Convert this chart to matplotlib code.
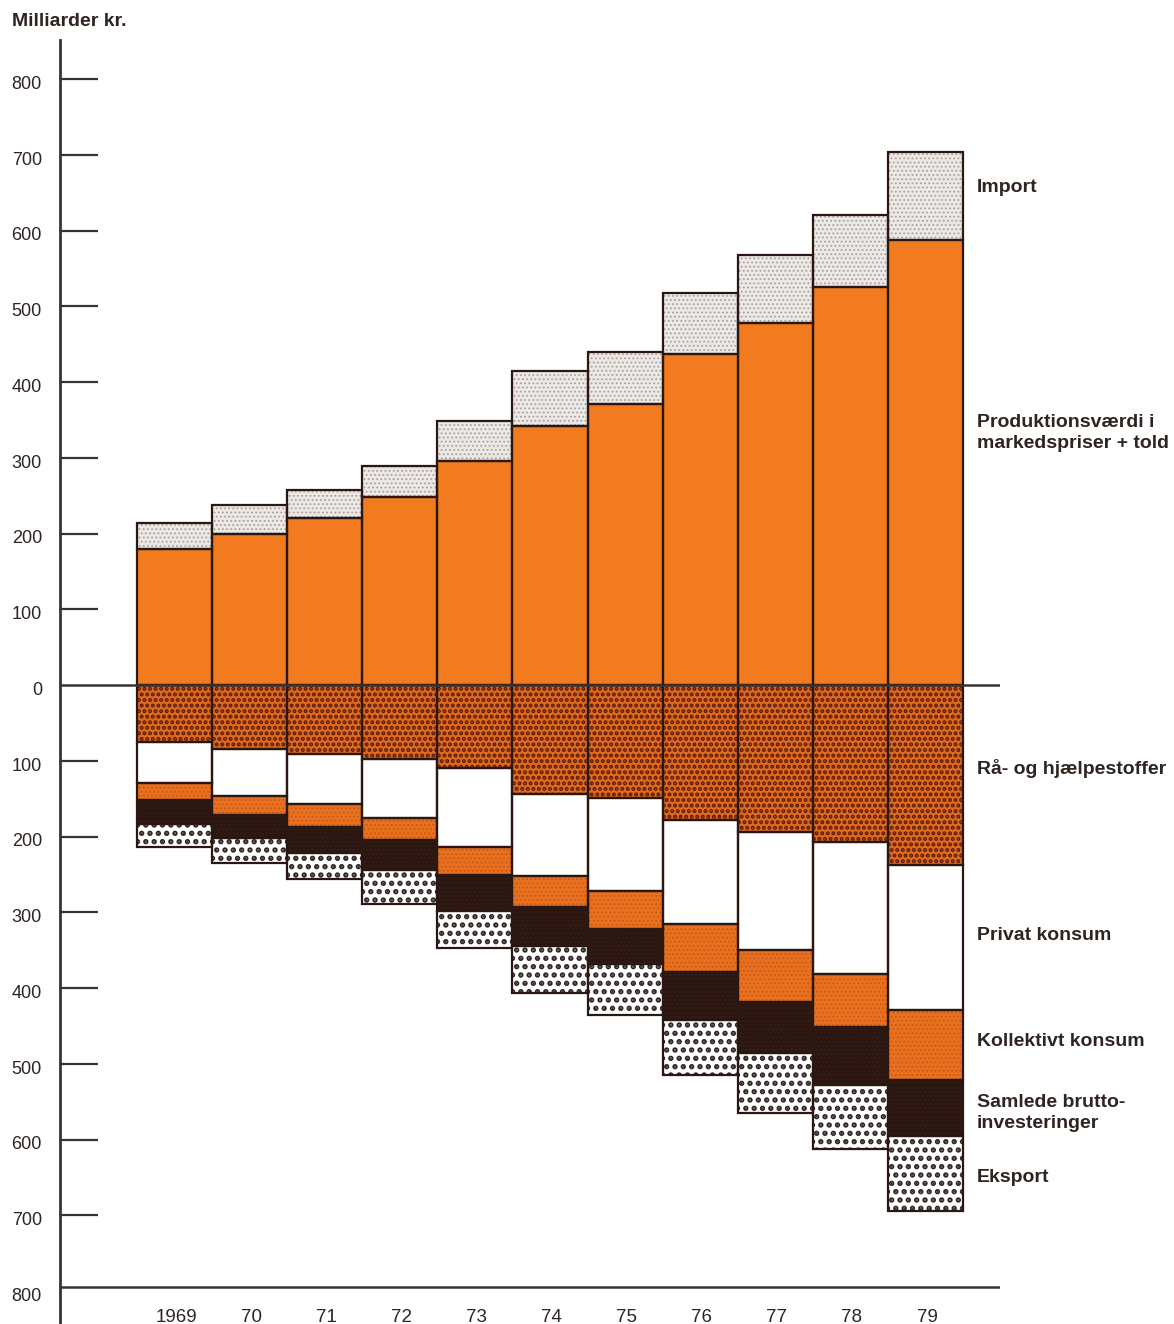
import matplotlib
matplotlib.use("Agg")
import matplotlib.pyplot as plt
import matplotlib.transforms as mtransforms
import numpy as np

plt.rcParams["font.family"] = ["Liberation Sans", "DejaVu Sans"]

# ---------------------------------------------------------------------------
# Data (milliarder kr.)
# ---------------------------------------------------------------------------
years = ["1969", "70", "71", "72", "73", "74", "75", "76", "77", "78", "79"]

# supply side (above zero)
produktion = [179, 199, 220, 248, 296, 342, 371, 437, 478, 525, 588]
import_ = [35, 38, 37, 41, 52, 72, 68, 80, 89, 95, 115]

# use side (below zero), stacked downwards in this order
raa_hjaelp = [75, 84, 91, 98, 110, 144, 149, 178, 194, 207, 237]
privat = [54, 62, 66, 77, 104, 108, 123, 137, 156, 174, 192]
kollektiv = [23, 25, 30, 29, 37, 41, 50, 64, 68, 71, 92]
investering = [31, 31, 35, 40, 47, 51, 46, 63, 68, 76, 75]
eksport = [31, 33, 34, 45, 49, 62, 67, 73, 79, 85, 98]

ytick_vals = [800, 700, 600, 500, 400, 300, 200, 100, 0,
              -100, -200, -300, -400, -500, -600, -700, -800]

# ---------------------------------------------------------------------------
# Styling
# ---------------------------------------------------------------------------
ORANGE = "#f27a1f"
DARK = "#2a1712"
TEXT = "#2e2420"

W, H = 1174, 1324
fig = plt.figure(figsize=(W / 100, H / 100), dpi=100)
ax = fig.add_axes([60 / W, 0, 940 / W, 1284 / H])

PX_PER_UNIT = 0.7575      # vertical pixels per milliard
ZERO_PX = 685
ax.set_ylim((ZERO_PX - H) / PX_PER_UNIT, (ZERO_PX - 40) / PX_PER_UNIT)
BAR_PX = 75.1
ax.set_xlim((60 - 174.5) / BAR_PX, (1000 - 174.5) / BAR_PX)

x = np.arange(len(years))


def layer(values, base, face, hatch=None, hatch_color=None, hatch_lw=1.0):
    v = np.array(values, dtype=float)
    b = np.array(base, dtype=float)
    plt.rcParams["hatch.linewidth"] = hatch_lw
    # fill + hatch (hatch colour follows edgecolor)
    bars = ax.bar(x, v, bottom=b, width=1.0, color=face, hatch=hatch,
                  edgecolor=hatch_color if hatch else face, linewidth=0,
                  zorder=2)
    for p in bars:
        if hasattr(p, "set_hatch_linewidth"):
            p.set_hatch_linewidth(hatch_lw)
    # outline
    ax.bar(x, v, bottom=b, width=1.0, fill=False, edgecolor=DARK,
           linewidth=1.6, zorder=3)
    return b + v


# positive stack
top = layer(produktion, np.zeros(len(x)), ORANGE)
layer(import_, top, "#ebe8e5", "....", "#a8a29d", 0.8)

# negative stack
base = np.zeros(len(x))
base = layer(-np.array(raa_hjaelp), base, "#de6a1e", "...", "#5a1a0c", 2.0)
base = layer(-np.array(privat), base, "white")
base = layer(-np.array(kollektiv), base, "#e8701e", "....", "#c85a18", 0.8)
base = layer(-np.array(investering), base, DARK, "....", "#3a1e16", 0.8)
base = layer(-np.array(eksport), base, "white", "..", "#2e2624", 2.6)

# axes lines
for s in ["top", "right", "bottom"]:
    ax.spines[s].set_visible(False)
ax.spines["left"].set_linewidth(2)
ax.spines["left"].set_color("#3a3230")
ax.axhline(0, color="#3a3230", lw=1.8, zorder=4)
ax.axhline(-795, color="#3a3230", lw=1.8, zorder=4)

ticks = [v for v in ytick_vals if abs(v) not in (0, 800)] + [800]
ax.set_yticks(ticks)
ax.set_yticklabels([])
ax.tick_params(axis="y", direction="in", length=27.4, width=1.6,
               color="#3a3230")
ax.set_xticks([])

# y labels (absolute values, set slightly below tick marks)
lab_trans = mtransforms.blended_transform_factory(ax.transAxes, ax.transData)
for v in ytick_vals:
    ax.text(-18 / 940, v - 7, f"{abs(v)}", transform=lab_trans,
            ha="right", va="center", fontsize=13, color=TEXT)

# year labels
for xi, yr in zip(x, years):
    ax.text(xi + 0.02, (ZERO_PX - 1318) / PX_PER_UNIT, yr, ha="center",
            va="center", fontsize=13.5, color=TEXT, clip_on=False)

# series labels on the right
lx = (977 - 174.5) / BAR_PX
series_labels = [
    ("Import", 187),
    ("Produktionsværdi i\nmarkedspriser + told", 433),
    ("Rå- og hjælpestoffer", 769),
    ("Privat konsum", 935),
    ("Kollektivt konsum", 1041),
    ("Samlede brutto-\ninvesteringer", 1113),
    ("Eksport", 1178),
]
for txt, ypx in series_labels:
    ax.text(lx, (ZERO_PX - ypx) / PX_PER_UNIT, txt, ha="left", va="center",
            fontsize=14, fontweight="bold", color=TEXT, linespacing=1.25,
            clip_on=False)

fig.text(12 / W, 1 - 22 / H, "Milliarder kr.", ha="left", va="center",
         fontsize=14, fontweight="bold", color=TEXT)

fig.savefig("out.png", dpi=100)
